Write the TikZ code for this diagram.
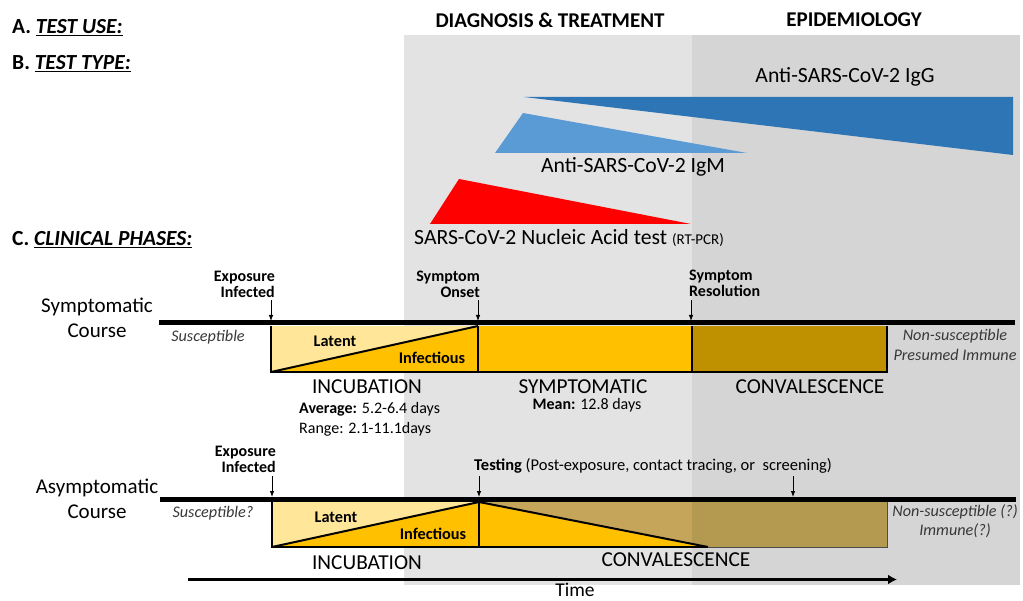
\documentclass[tikz,border=0pt]{standalone}
\usepackage{fontspec}
\setmainfont{Carlito}
\usetikzlibrary{arrows.meta}
\definecolor{lgray}{HTML}{E3E3E3}
\definecolor{dgray}{HTML}{D5D5D5}
\definecolor{igg}{HTML}{2E75B6}
\definecolor{igm}{HTML}{5B9BD5}
\definecolor{pcr}{HTML}{FF0000}
\definecolor{lyel}{HTML}{FFE699}
\definecolor{oran}{HTML}{FFC000}
\definecolor{gold}{HTML}{BF9000}
\definecolor{tanA}{HTML}{C4A55A}
\definecolor{tanB}{HTML}{B49A50}
\definecolor{itxt}{HTML}{383838}
\newcommand{\fs}[1]{\fontsize{#1}{#1}\selectfont}
\begin{document}
\begin{tikzpicture}[x=1pt,y=-1pt,
  hdr/.style={font=\fs{21.5}\bfseries, anchor=west, inner sep=0pt},
  col/.style={font=\fs{21}\bfseries, inner sep=0pt},
  big/.style={font=\fs{21.7}, inner sep=0pt},
  phase/.style={font=\fs{21.3}, inner sep=0pt},
  course/.style={font=\fs{21}, align=center, inner sep=0pt},
  small/.style={font=\fs{16}\bfseries, inner sep=0pt, align=right},
  box/.style={font=\fs{16.3}\bfseries, inner sep=0pt},
  ital/.style={font=\fs{16.2}\itshape, text=itxt, inner sep=0pt, align=center},
  info/.style={font=\fs{16}, inner sep=0pt, anchor=west},
  tline/.style={line width=5pt},
  edge/.style={line width=2pt},
  arr/.style={line width=0.8pt, -{Latex[length=6pt,width=4.5pt]}}
]
\useasboundingbox (0,0) rectangle (1023,601);
\fill[white] (0,0) rectangle (1023,601);
\fill[lgray] (404,35) rectangle (692,585);
\fill[dgray] (692,35) rectangle (1020,585);

% headers
\node[hdr] (hA) at (12,28) {A. \underline{\textit{TEST USE:}}};
\node[hdr] (hB) at (12,64) {B. \underline{\textit{TEST TYPE:}}};
\node[hdr] (hC) at (12,240) {C. \underline{\textit{CLINICAL PHASES:}}};
\node[col] (dt) at (550,20) {DIAGNOSIS \& TREATMENT};
\node[col] (ep) at (854,20) {EPIDEMIOLOGY};

% test type triangles
\fill[igg] (524,97) -- (1013,97) -- (1013,155) -- cycle;
\fill[igm] (523,113) -- (747,153) -- (495,153) -- cycle;
\fill[pcr] (459,179) -- (691,224) -- (430,224) -- cycle;
\node[big] (lg) at (845,77) {Anti-SARS-CoV-2 IgG};
\node[big] (lm) at (633,167) {Anti-SARS-CoV-2 IgM};
\node[big] (lp) at (569,238) {SARS-CoV-2 Nucleic Acid test {\fs{15}(RT-PCR)}};

% ---------- symptomatic course ----------
\node[course] (sc) at (97,318) {Symptomatic\\[4pt]Course};
\fill[lyel] (271,326) rectangle (478,372);
\fill[oran] (271,372) -- (478,326) -- (478,372) -- cycle;
\fill[oran] (478,326) rectangle (692,372);
\fill[gold] (692,326) rectangle (887,372);
\draw[edge] (271,326) -- (271,372) -- (887,372) -- (887,326);
\draw[edge] (271,372) -- (478,326);
\draw[edge] (478,326) -- (478,372);
\draw[edge] (692,326) -- (692,372);
\draw[tline] (159,323) -- (1015,323);

\node[small, anchor=south east] (ex1) at (275,298) {Exposure\\Infected};
\node[small, anchor=south east] (on1) at (480,298) {Symptom\\Onset};
\node[small, anchor=south west, align=left] (rs1) at (689,297) {Symptom\\Resolution};
\coordinate (ex1a) at (271,300); \coordinate (ex1b) at (271,321);
\coordinate (on1a) at (478,300); \coordinate (on1b) at (478,321);
\coordinate (rs1a) at (691,300); \coordinate (rs1b) at (691,321);
\draw[arr] (ex1a) -- (ex1b);
\draw[arr] (on1a) -- (on1b);
\draw[arr] (rs1a) -- (rs1b);

\node[ital] (su1) at (208,337) {Susceptible};
\node[box] (la1) at (335,341) {Latent};
\node[box] (in1) at (432,358) {Infectious};
\node[ital] (ns1) at (955,345) {Non-susceptible\\[3pt]Presumed Immune};
\node[phase] (incub1) at (367,387) {INCUBATION};
\node[info] (avg) at (299,409) {\textbf{Average:} 5.2-6.4 days};
\node[info] (rng) at (299,429) {Range: 2.1-11.1days};
\node[phase] (symp) at (583,387) {SYMPTOMATIC};
\node[info, anchor=center] (mean) at (587,405) {\textbf{Mean:} 12.8 days};
\node[phase] (conv1) at (810,387) {CONVALESCENCE};

% ---------- asymptomatic course ----------
\node[course] (ac) at (97,499) {Asymptomatic\\[4pt]Course};
\fill[lyel] (272,502) rectangle (479,547);
\fill[oran] (272,547) -- (479,502) -- (479,547) -- cycle;
\fill[tanA] (479,502) rectangle (692,547);
\fill[tanB] (692,502) rectangle (887,547);
\fill[oran] (479,502) -- (708,547) -- (479,547) -- cycle;
\draw[line width=1pt, black!70] (692,547) -- (887,547) -- (887,502);
\draw[edge] (272,502) -- (272,547) -- (708,547);
\draw[edge] (272,547) -- (479,502);
\draw[edge] (479,502) -- (479,547);
\draw[edge] (479,502) -- (708,547);
\draw[tline] (160,499) -- (1016,499);

\node[small, anchor=south east] (ex2) at (276,473) {Exposure\\Infected};
\node[font=\fs{16.5}, inner sep=0pt, anchor=west] (tst) at (474,466) {\textbf{Testing} (Post-exposure, contact tracing, or~ screening)};
\coordinate (ex2a) at (272,476); \coordinate (ex2b) at (272,497);
\coordinate (ts1a) at (479,476); \coordinate (ts1b) at (479,497);
\coordinate (ts2a) at (793,476); \coordinate (ts2b) at (793,497);
\draw[arr] (ex2a) -- (ex2b);
\draw[arr] (ts1a) -- (ts1b);
\draw[arr] (ts2a) -- (ts2b);

\node[ital] (su2) at (213,513) {Susceptible?};
\node[box] (la2) at (336,517) {Latent};
\node[box] (in2) at (433,534) {Infectious};
\node[ital] (ns2) at (955,521) {Non-susceptible (?)\\[3pt]Immune(?)};
\node[phase] (incub2) at (367,563) {INCUBATION};
\node[phase] (conv2) at (676,560) {CONVALESCENCE};

% time axis
\coordinate (t0) at (188,579.5); \coordinate (t1) at (897,579.5);
\draw[line width=3.5pt, -{Latex[length=9pt,width=10pt]}] (t0) -- (t1);
\node[font=\fs{19.5}, inner sep=0pt, anchor=base] (time) at (575,596) {Time};
\end{tikzpicture}
\end{document}
